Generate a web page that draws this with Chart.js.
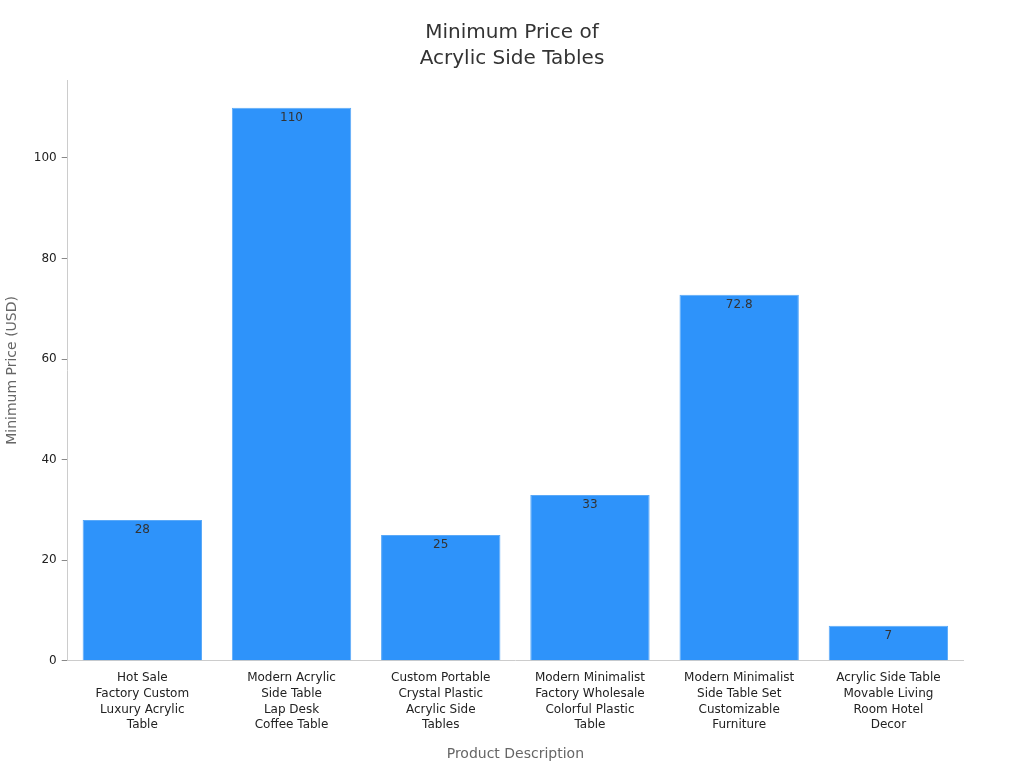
<!DOCTYPE html>
<html>
<head>
<meta charset="utf-8">
<script src="https://cdn.jsdelivr.net/npm/chart.js@4"></script>
<style>
  html, body { margin: 0; padding: 0; background: #fff; }
  #wrap { width: 1024px; height: 768px; position: relative; }
</style>
</head>
<body>
<div id="wrap"><canvas id="myBarChart"></canvas></div>
<script>
var categories = [
  ["Hot Sale", "Factory Custom", "Luxury Acrylic", "Table"],
  ["Modern Acrylic", "Side Table", "Lap Desk", "Coffee Table"],
  ["Custom Portable", "Crystal Plastic", "Acrylic Side", "Tables"],
  ["Modern Minimalist", "Factory Wholesale", "Colorful Plastic", "Table"],
  ["Modern Minimalist", "Side Table Set", "Customizable", "Furniture"],
  ["Acrylic Side Table", "Movable Living", "Room Hotel", "Decor"]
];
var minPrices = [28, 110, 25, 33, 72.8, 7];
var yTicks = [0, 20, 40, 60, 80, 100];
var titleLines = ['Minimum Price of', 'Acrylic Side Tables'];

Chart.defaults.font.family = '"DejaVu Sans", Verdana, sans-serif';
Chart.defaults.color = '#333';

// value just inside the top of each bar
var valueLabels = {
  id: 'valueLabels',
  afterDatasetsDraw: function (chart) {
    var ctx = chart.ctx;
    var meta = chart.getDatasetMeta(0);
    ctx.save();
    ctx.font = '12px "DejaVu Sans", sans-serif';
    ctx.fillStyle = '#333';
    ctx.textAlign = 'center';
    ctx.textBaseline = 'top';
    meta.data.forEach(function (bar, i) {
      ctx.fillText(String(minPrices[i]), bar.x, bar.y + 4);
    });
    ctx.restore();
  }
};

// title centred on the whole canvas, not on the padded area
var pageTitle = {
  id: 'pageTitle',
  afterDraw: function (chart) {
    var ctx = chart.ctx;
    ctx.save();
    ctx.font = '20px "DejaVu Sans", sans-serif';
    ctx.fillStyle = '#333';
    ctx.textAlign = 'center';
    ctx.textBaseline = 'middle';
    titleLines.forEach(function (line, i) {
      ctx.fillText(line, chart.width / 2, 33 + i * 26);
    });
    ctx.restore();
  }
};

var ctx = document.getElementById("myBarChart");
new Chart(ctx, {
  type: 'bar',
  data: {
    labels: categories,
    datasets: [{
      data: minPrices,
      backgroundColor: '#2E93FA',
      borderColor: '#5AA9F8',
      borderWidth: 1,
      barPercentage: 0.8,
      categoryPercentage: 1.0
    }]
  },
  options: {
    responsive: true,
    maintainAspectRatio: false,
    animation: false,
    layout: { padding: { left: 0, right: 61, top: 80, bottom: 1 } },
    plugins: {
      legend: { display: false },
      tooltip: { enabled: false },
      title: { display: false }
    },
    scales: {
      x: {
        grid: { display: false, drawTicks: true, tickLength: 6, color: '#ccc' },
        border: { color: '#ccc' },
        ticks: { color: '#222', font: { size: 12, lineHeight: 1.32 }, maxRotation: 0, autoSkip: false, padding: 3 },
        title: {
          display: true,
          text: 'Product Description',
          color: '#666',
          font: { size: 14 },
          padding: { top: 10 }
        }
      },
      y: {
        min: 0,
        max: 115.5,
        afterBuildTicks: function (axis) {
          axis.ticks = yTicks.map(function (v) { return { value: v }; });
        },
        grid: { display: true, drawOnChartArea: false, drawTicks: true, tickLength: 6, color: '#888' },
        border: { color: '#ccc' },
        ticks: { color: '#222', font: { size: 12 }, padding: 5 },
        title: {
          display: true,
          text: 'Minimum Price (USD)',
          color: '#666',
          font: { size: 14 },
          padding: { bottom: 8 }
        }
      }
    }
  },
  plugins: [valueLabels, pageTitle]
});
</script>
</body>
</html>
